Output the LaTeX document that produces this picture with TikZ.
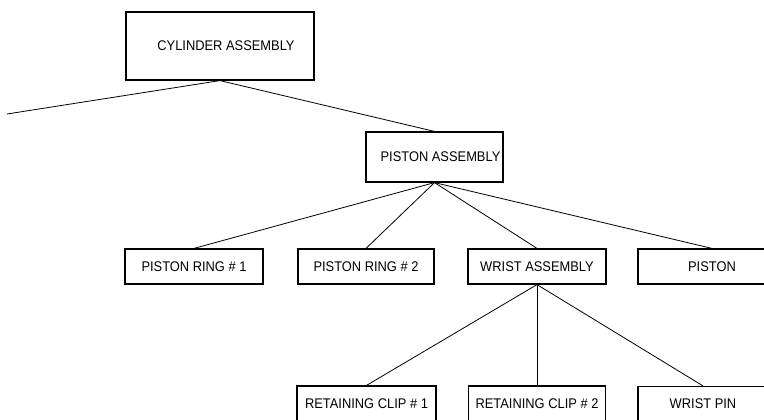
\documentclass[tikz,border=0pt]{standalone}
\usepackage{fontspec}
\setmainfont[FakeStretch=0.92]{Liberation Sans}
\usepackage{tikz}
\usetikzlibrary{positioning}
\tikzset{
  partbox/.style={draw, line width=1.2pt, minimum height=35pt, inner sep=0pt,
                  font=\fontsize{14}{16}\selectfont},
  link/.style={line width=0.8pt}
}

\begin{document}
\begin{tikzpicture}[x=1pt, y=-1pt]
  \useasboundingbox (0,0) rectangle (764,420);
  \clip (0,0) rectangle (764,420);
  % top levels
  \node[partbox, minimum width=188pt, minimum height=68pt] (cyl) at (220,46) {\hspace{12pt}CYLINDER ASSEMBLY};
  \node[partbox, minimum width=137pt, minimum height=50pt] (pa) at (434.5,157) {\hspace{12pt}PISTON ASSEMBLY};
  \coordinate (offleft) at (7,114);
  % piston assembly parts
  \node[partbox, minimum width=138pt] (pr1) at (194,266.5) {PISTON RING \# 1};
  \node[partbox, minimum width=136pt] (pr2) at (366,266.5) {PISTON RING \# 2};
  \node[partbox, minimum width=138pt] (wa) at (537,266.5) {WRIST ASSEMBLY};
  \node[partbox, minimum width=148pt] (pis) at (712,266.5) {PISTON};
  % wrist assembly parts
  \node[partbox, minimum width=139pt] (rc1) at (366.5,403.5) {RETAINING CLIP \# 1};
  \node[partbox, minimum width=137pt] (rc2) at (537,403.5) {RETAINING CLIP \# 2};
  \node[partbox, minimum width=130pt] (wp) at (703,404) {WRIST PIN};
  % connectors
  \draw[link] (cyl.south) -- (offleft);
  \draw[link] (cyl.south) -- (pa.north);
  \foreach \child in {pr1, pr2, wa, pis}
    \draw[link] (pa.south) -- (\child.north);
  \foreach \child in {rc1, rc2, wp}
    \draw[link] (wa.south) -- (\child.north);
\end{tikzpicture}
\end{document}
